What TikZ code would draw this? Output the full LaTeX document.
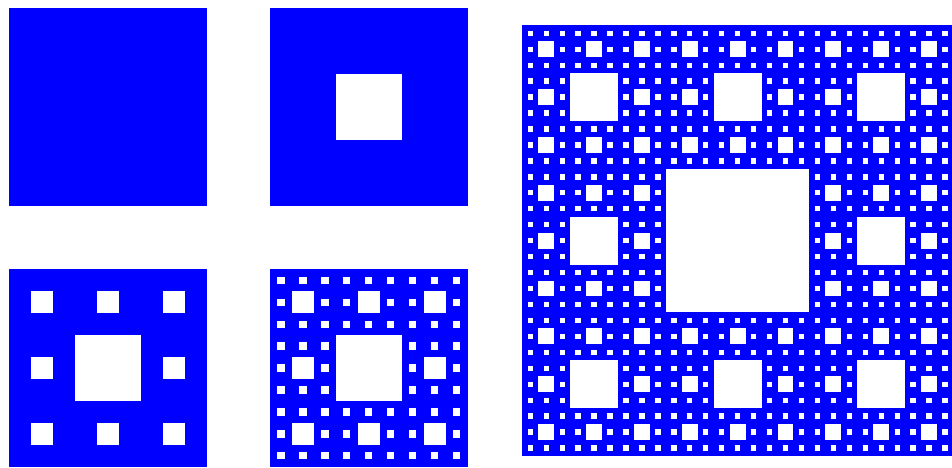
\documentclass[tikz,border=0pt]{standalone}
\usetikzlibrary{calc}
\tikzset{carpetfill/.style={fill=blue}, holefill/.style={fill=white}}
\def\mycarpet#1#2#3#4{%
  \ifnum#4>0
    \pgfmathsetmacro\cs{#3/3}%
    \fill[holefill] (#1+\cs,#2+\cs) rectangle ++(\cs,\cs);
    \foreach \i/\j in {0/0,1/0,2/0,0/1,2/1,0/2,1/2,2/2}{%
      \pgfmathsetmacro\nx{#1+\i*\cs}%
      \pgfmathsetmacro\ny{#2+\j*\cs}%
      \pgfmathtruncatemacro\nd{#4-1}%
      \edef\mynext{\noexpand\mycarpet{\nx}{\ny}{\cs}{\nd}}\mynext}%
  \fi}
\def\drawcarpet#1#2#3#4{%
  \fill[carpetfill] (#1,#2) rectangle ++(#3,#3);
  \mycarpet{#1}{#2}{#3}{#4}}
\begin{document}
\begin{tikzpicture}[x=1pt,y=-1pt]
\useasboundingbox (0,0) rectangle (952,467);
\fill[white] (0,0) rectangle (952,467);
\drawcarpet{9}{8}{197.5}{0}
\drawcarpet{270}{8}{197.5}{1}
\drawcarpet{9}{269.3}{197.5}{2}
\drawcarpet{270}{269.3}{197.5}{3}
\drawcarpet{522.3}{25.3}{430.7}{4}
\end{tikzpicture}
\end{document}
